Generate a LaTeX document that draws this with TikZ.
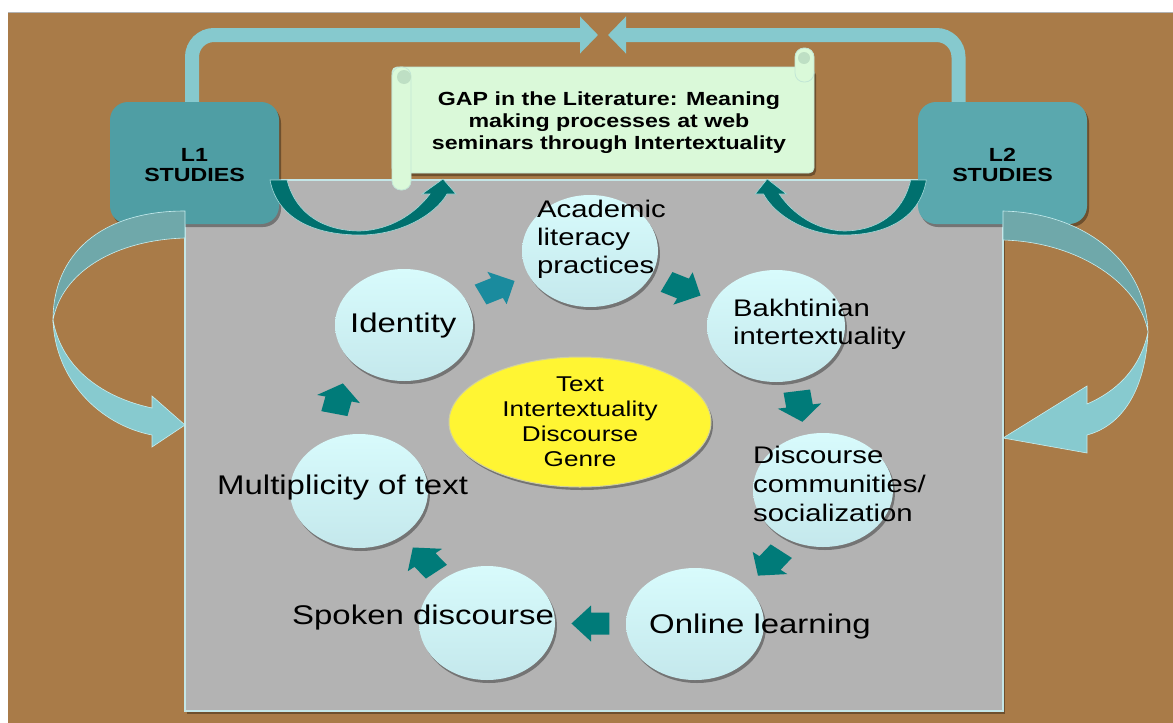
\documentclass[tikz,border=0pt]{standalone}
\usepackage{fontspec}
\setmainfont{Liberation Sans}
\newfontfamily\slidefont[FakeStretch=1.22]{Liberation Sans}
\usetikzlibrary{shapes.geometric,shadows,arrows.meta,calc}
\definecolor{brownbg}{HTML}{A97B48}
\definecolor{panelgray}{HTML}{B3B3B3}
\definecolor{paneledge}{HTML}{C4E6E7}
\definecolor{boxL}{HTML}{4F9EA4}
\definecolor{boxR}{HTML}{5AA8AE}
\definecolor{toparrow}{HTML}{86C9CE}
\definecolor{ribbonback}{HTML}{6FA8AA}
\definecolor{ribbonfront}{HTML}{87CACF}
\definecolor{ribbonedge}{HTML}{C8EEF0}
\definecolor{darkteal}{HTML}{00706E}
\definecolor{darkedge}{HTML}{A2D8D8}
\definecolor{blockteal}{HTML}{007B79}
\definecolor{blockblue}{HTML}{1A8B9E}
\definecolor{scrollfill}{HTML}{DAF9D9}
\definecolor{scrolledge}{HTML}{C2E6D6}
\definecolor{scrollcurl}{HTML}{BEDFC4}
\definecolor{bubbletop}{HTML}{D8FBFC}
\definecolor{bubblebot}{HTML}{C4E8EC}
\definecolor{coreyellow}{HTML}{FFF533}
\definecolor{coreedge}{HTML}{D0D0A0}
\pgfdeclarelayer{bg}
\pgfsetlayers{bg,main}
\tikzset{
  softshadow/.style={drop shadow={shadow xshift=2pt, shadow yshift=-3pt, opacity=0.35, fill=black}},
  bubble/.style={ellipse, inner sep=0pt, shading=axis, top color=bubbletop, bottom color=bubblebot, softshadow},
  studybox/.style={rounded corners=18pt, minimum width=169pt, minimum height=122pt, inner sep=0pt, align=center, softshadow, font=\slidefont\bfseries\fontsize{19}{20.5}\selectfont},
  panelbox/.style={draw=paneledge, line width=1.2pt, fill=panelgray, minimum width=818pt, minimum height=531pt, inner sep=0pt, softshadow},
  toparr/.style={line width=14pt, draw=toparrow, rounded corners=22pt, -{Triangle[length=18pt,width=36pt]}},
  ribbon/.style={draw=ribbonedge, line width=0.6pt},
  darkarr/.style={fill=darkteal, draw=darkedge, line width=0.6pt},
  scrollpart/.style={fill=scrollfill, draw=scrolledge, line width=0.8pt},
  lbl/.style={anchor=base west, align=left, inner sep=0pt},
  bigtxt/.style={font=\slidefont\fontsize{27}{31}\selectfont},
  midtxt/.style={font=\slidefont\fontsize{24}{28}\selectfont},
  blk/.pic={\fill[pic actions] (-15,-11) -- (0,-11) -- (0,-18) -- (16,0) -- (0,18) -- (0,11) -- (-15,11) -- cycle;},
}
\begin{document}
\begin{tikzpicture}[x=1pt,y=-1pt]
\useasboundingbox (0,0) rectangle (1173,723);
\begin{pgfonlayer}{bg}
\fill[white] (0,0) rectangle (1173,723);
\fill[brownbg] (8,12) rectangle (1173,723);
\draw[gray!60, line width=1pt] (8,12) -- (1173,12);
\end{pgfonlayer}

% central panel
\node[panelbox] (panel) at (594,445.5) {};

% study boxes
\node[studybox, fill=boxL] (L1) at (194.5,163) {\rule{0pt}{17pt}L1\\STUDIES};
\node[studybox, fill=boxR] (L2) at (1002.5,163) {\rule{0pt}{17pt}L2\\STUDIES};

% left ribbon arrow
\path[ribbon, fill=ribbonback] (185,211) .. controls (100,211) and (53,255) .. (53,320)
   .. controls (62,272) and (115,240) .. (185,238) -- cycle;
\path[ribbon, fill=ribbonfront] (53,320) .. controls (55,380) and (100,425) .. (152,435)
   -- (152,447) -- (185,425) -- (152,396) -- (152,408)
   .. controls (105,398) and (62,370) .. (53,320) -- cycle;
% right ribbon arrow
\path[ribbon, fill=ribbonback] (1003,211) .. controls (1085,213) and (1146,262) .. (1148,332)
   .. controls (1140,285) and (1080,242) .. (1003,240) -- cycle;
\path[ribbon, fill=ribbonfront] (1148,332) .. controls (1146,385) and (1125,425) .. (1087,435)
   -- (1087,453) -- (1003,438) -- (1087,386) -- (1087,404)
   .. controls (1115,392) and (1140,370) .. (1148,332) -- cycle;

% dark curved arrows towards the gap
\path[darkarr] (270,180) .. controls (278,222) and (320,235) .. (360,235)
   .. controls (400,235) and (435,215) .. (447,194) -- (456,194) -- (443,179) -- (422,194) -- (430,194)
   .. controls (415,214) and (390,230) .. (360,231)
   .. controls (325,231) and (296,215) .. (287,180) -- cycle;
\begin{scope}[shift={(1174.76,0)}, xscale=-0.92]
\path[darkarr] (270,180) .. controls (278,222) and (320,235) .. (360,235)
   .. controls (400,235) and (435,215) .. (447,194) -- (456,194) -- (443,179) -- (422,194) -- (430,194)
   .. controls (415,214) and (390,230) .. (360,231)
   .. controls (325,231) and (296,215) .. (287,180) -- cycle;
\end{scope}

% scroll
\path[scrollpart, softshadow, rounded corners=5pt] (392,67) rectangle (814,173);
\path[scrollpart, rounded corners=9pt] (795,48) rectangle (814,82);
\fill[scrollcurl] (804,58) circle (6);
\path[scrollpart, rounded corners=9pt] (392,67) rectangle (411,190);
\fill[scrollcurl] (404,77) circle (7);
\node[font=\slidefont\bfseries\fontsize{19}{22}\selectfont, align=center, inner sep=0pt, anchor=base] (gap) at (609,149)
  {GAP in the Literature: Meaning\\making processes at web\\seminars through Intertextuality};

% bubbles
\node[bubble, minimum width=136pt, minimum height=112pt] (acad) at (590,251) {};
\node[bubble, minimum width=138pt, minimum height=112pt] (idn) at (404,325) {};
\node[bubble, minimum width=138pt, minimum height=112pt] (bakh) at (776,326) {};
\node[bubble, minimum width=140pt, minimum height=114pt] (disc) at (823,490) {};
\node[bubble, minimum width=138pt, minimum height=112pt] (online) at (695,624) {};
\node[bubble, minimum width=136pt, minimum height=114pt] (spoken) at (487,623) {};
\node[bubble, minimum width=138pt, minimum height=114pt] (multi) at (359,491) {};
\node[ellipse, fill=coreyellow, draw=coreedge, line width=1pt, minimum width=262pt, minimum height=130pt,
      inner sep=0pt, align=center, softshadow, font=\slidefont\fontsize{21.4}{25}\selectfont] (core) at (580,422)
  {Text\\Intertextuality\\Discourse\\Genre};

% block arrows of the cycle
\pic[fill=blockblue, xscale=1.22, rotate=26] (a1) at ($(idn)!0.5!(acad)$) {blk};
\pic[fill=blockteal, xscale=1.22, rotate=-26] (a2) at ($(acad)!0.5!(bakh)$) {blk};
\pic[fill=blockteal, xscale=1.22, rotate=-81.5] (a3) at ($(bakh)!0.5!(disc)+(0,-2)$) {blk};
\pic[fill=blockteal, xscale=1.22, rotate=-128] (a4) at ($(disc)!0.5!(online)+(11,6)$) {blk};
\pic[fill=blockteal, xscale=1.22, rotate=180] (a5) at ($(online)!0.5!(spoken)$) {blk};
\pic[fill=blockteal, xscale=1.22, rotate=128.5] (a6) at ($(spoken)!0.5!(multi)+(2,3)$) {blk};
\pic[fill=blockteal, xscale=1.22, rotate=77] (a7) at ($(multi)!0.5!(idn)+(-43,-9)$) {blk};

% labels (base anchor = baseline of the last line)
\node[lbl, midtxt] (tacad) at (537,273) {Academic\\literacy\\practices};
\node[lbl, bigtxt] (tidn) at (350,332) {Identity};
\node[lbl, midtxt] (tbakh) at (733,344) {Bakhtinian\\intertextuality};
\node[lbl, midtxt, font=\slidefont\fontsize{24}{29}\selectfont] (tdisc) at (753,521) {Discourse\\communities/\\socialization};
\node[lbl, bigtxt] (tonline) at (649,633) {Online learning};
\node[lbl, bigtxt] (tspoken) at (292,624) {Spoken discourse};
\node[lbl, bigtxt] (tmulti) at (217,494) {Multiplicity of text};

% top arrows meeting above the gap
\coordinate (meetL) at (598,35);
\coordinate (meetR) at (608,35);
\begin{pgfonlayer}{bg}
\draw[toparr] ($(L1.north)+(-2.5,0)$) |- (meetL);
\draw[toparr] ($(L2.north)+(-44,0)$) |- (meetR);
\end{pgfonlayer}
\end{tikzpicture}
\end{document}
